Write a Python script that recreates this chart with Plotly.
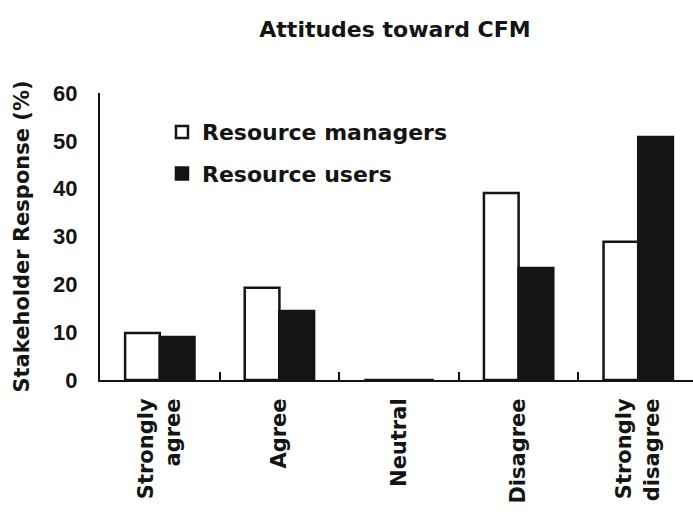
import plotly.graph_objects as go

categories = ["Strongly<br>agree", "Agree", "Neutral", "Disagree", "Strongly<br>disagree"]
managers = [9.8, 19.3, 0, 39.1, 28.9]
users = [9.0, 14.4, 0, 23.4, 50.8]
series_names = ["Resource managers", "Resource users"]
y_ticks = [0, 10, 20, 30, 40, 50, 60]

TXT = "DejaVu Sans, Verdana, sans-serif"
NUM = "Liberation Sans, Arial, sans-serif"
INK = "#141414"

fig = go.Figure()
fig.add_trace(go.Bar(x=categories, y=managers, name=series_names[0], legendgroup="m",
                     marker=dict(color="white", line=dict(color=INK, width=2.5))))
fig.add_trace(go.Bar(x=categories, y=users, name=series_names[1], legendgroup="u",
                     marker=dict(color=INK, line=dict(color=INK, width=2.5))))

fig.update_layout(
    width=693, height=517,
    margin=dict(l=100, r=0, t=93, b=137, autoexpand=False),
    paper_bgcolor="white", plot_bgcolor="white",
    barmode="group", bargap=0.42, bargroupgap=0,
    font=dict(family=TXT, color=INK),
    title=dict(text="Attitudes toward CFM", x=395/693, xanchor="center",
               y=1-29/517, yanchor="middle",
               font=dict(size=22, family=TXT, color=INK, weight="bold")),
    legend=dict(x=0.1045, y=0.937, xanchor="left", yanchor="top",
                font=dict(size=22, family=TXT, color=INK, weight="bold"),
                bgcolor="rgba(0,0,0,0)", tracegroupgap=10),
    showlegend=True,
)
fig.update_xaxes(
    range=[-0.5, 4.458], showline=True, linecolor=INK, linewidth=2,
    ticks="inside", tickson="boundaries", ticklen=8, tickwidth=2, tickcolor=INK,
    tickangle=-90, tickfont=dict(size=21, family=TXT, color=INK, weight="bold"),
    ticklabelstandoff=8, showgrid=False, automargin=False,
)
fig.update_yaxes(
    range=[0, 60], tickvals=y_ticks, showline=True, linecolor=INK, linewidth=2,
    ticks="", showgrid=False, zeroline=False, automargin=False,
    tickfont=dict(size=22, family=NUM, color=INK, weight="bold"), ticklabelstandoff=16,
    title=dict(text="Stakeholder Response (%)",
               font=dict(size=21, family=TXT, color=INK, weight="bold"), standoff=18),
)

fig.write_html("out.html", config={"displayModeBar": False},
               post_script="document.body.style.margin='0';")
